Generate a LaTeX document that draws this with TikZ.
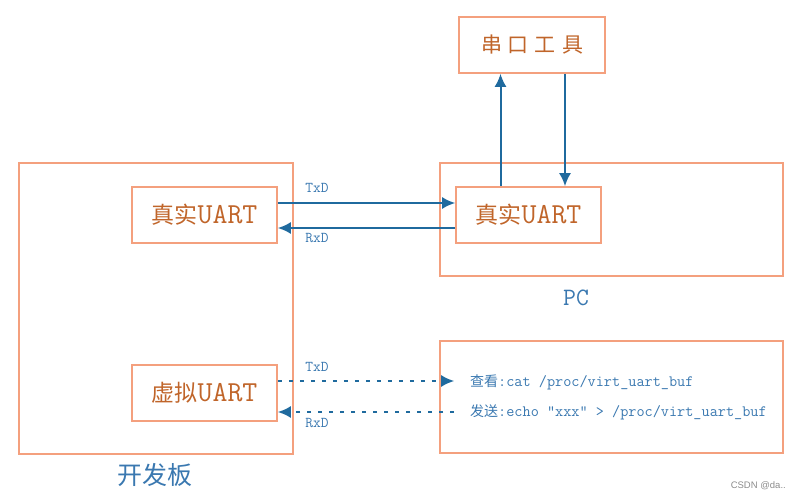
\documentclass[tikz,border=0pt]{standalone}
\usepackage{fontspec}
\newfontfamily\cjk{Noto Sans CJK SC}
\newcommand{\mono}{\ttfamily}
\newfontfamily\sans{Liberation Sans}
\usetikzlibrary{arrows.meta}
\definecolor{boxc}{HTML}{F4A07E}
\definecolor{brownt}{HTML}{C0652A}
\definecolor{arrc}{HTML}{1F6A9E}
\definecolor{bluet}{HTML}{3A78B0}
\tikzset{
  outerbox/.style={draw=boxc, line width=1.6pt, inner sep=0pt},
  innerbox/.style={draw=boxc, line width=1.6pt, inner sep=0pt, minimum width=145pt, minimum height=56pt, text=brownt},
  conn/.style={draw=arrc, line width=2pt, -{Latex[length=13pt,width=12pt]}},
  dconn/.style={draw=arrc, line width=2pt, dash pattern=on 4pt off 7pt, -{Latex[length=13pt,width=12pt]}},
  sig/.style={text=bluet, font=\mono\fontsize{15}{17}\selectfont, inner sep=0pt},
  cmdtxt/.style={text=bluet, anchor=west, inner sep=0pt},
}
\newcommand{\uartlabel}[1]{{\cjk\fontsize{23}{26}\selectfont #1}{\mono\fontsize{29}{31}\selectfont UART}}
\begin{document}
\begin{tikzpicture}[x=1pt,y=-1pt]
\useasboundingbox (0,0) rectangle (798,500);
% outer boxes
\node[outerbox, minimum width=274pt, minimum height=291pt] (dev) at (156,308.5) {};
\node[outerbox, minimum width=343pt, minimum height=113pt] (pc) at (611.5,219.5) {};
\node[outerbox, minimum width=343pt, minimum height=112pt] (cmd) at (611.5,397) {};
% inner boxes
\node[innerbox] (rl) at (204.5,215) {\uartlabel{真实}};
\node[innerbox] (rr) at (528.5,215) {\uartlabel{真实}};
\node[innerbox] (vu) at (204.5,393) {\uartlabel{虚拟}};
\node[innerbox, minimum width=146pt] (st) at (532,45) {\cjk\fontsize{21}{24}\selectfont 串\hspace{6pt}口\hspace{6pt}工\hspace{6pt}具};
% labels
\node[text=bluet, font=\mono\fontsize{25}{28}\selectfont, inner sep=0pt] (pcl) at (576,298) {PC};
\node[text=bluet, font=\cjk\fontsize{25}{28}\selectfont, inner sep=0pt] (devl) at (155,475) {开发板};
\node[sig] (t1) at (317,188) {TxD};
\node[sig] (r1) at (317,238) {RxD};
\node[sig] (t2) at (317,367) {TxD};
\node[sig] (r2) at (317,423) {RxD};
\node[cmdtxt] (c1) at (470,382) {{\cjk\fontsize{14}{16}\selectfont 查看}{\mono\fontsize{15.8}{17}\selectfont :cat /proc/virt\_uart\_buf}};
\node[cmdtxt] (c2) at (470,412) {{\cjk\fontsize{14}{16}\selectfont 发送}{\mono\fontsize{15.8}{17}\selectfont :echo "xxx" > /proc/virt\_uart\_buf}};
\node[text=black!45, font=\sans\fontsize{9.5}{11}\selectfont, anchor=east, inner sep=0pt] (wm) at (786,486) {CSDN @da..};
% connectors
\draw[conn] ([yshift=12pt]rl.east) -- ([yshift=12pt]rr.west);
\draw[conn] ([yshift=-13pt]rr.west) -- ([yshift=-13pt]rl.east);
\draw[conn] ([xshift=-28pt]rr.north) -- ([xshift=-28pt]rr.north |- st.south);
\draw[conn] ([xshift=33pt]st.south) -- ([xshift=33pt]st.south |- rr.north);
\coordinate (ct) at ([xshift=15pt]cmd.west |- 0,381);
\coordinate (cr) at ([xshift=15pt]cmd.west |- 0,412);
\draw[dconn] ([yshift=12pt]vu.east) -- (ct);
\draw[dconn] (cr) -- ([yshift=-19pt]vu.east);
\end{tikzpicture}
\end{document}
